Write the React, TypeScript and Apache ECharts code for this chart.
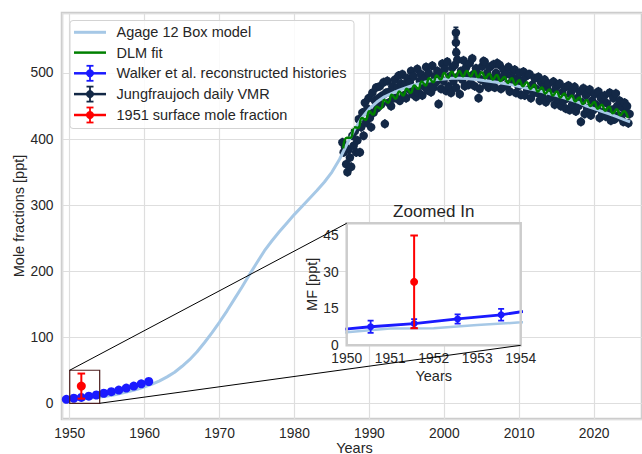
import React, { useEffect, useRef } from "react";
import * as echarts from "echarts";

// ---------------- data ----------------
const agageYears = [
  1949, 1950, 1951, 1952, 1953, 1954, 1955, 1956, 1957, 1958, 1959, 1960, 1961, 1962, 1963, 1964,
  1965, 1966, 1967, 1968, 1969, 1970, 1971, 1972, 1973, 1974, 1975, 1976, 1977, 1978, 1979, 1980,
  1981, 1982, 1983, 1984, 1985, 1986, 1987, 1988, 1989, 1990, 1991, 1992, 1993, 1994, 1995, 1996,
  1997, 1998, 1999, 2000, 2001, 2002, 2003, 2004, 2005, 2006, 2007, 2008, 2009, 2010, 2011, 2012,
  2013, 2014, 2015, 2016, 2017, 2018, 2019, 2020, 2021, 2022, 2023, 2024, 2024.8,
];
const agageValues = [
  4.5, 5.3, 6.9, 7.0, 8.3, 9.4, 11, 13, 15.5, 18, 21, 25, 29, 34, 40, 47,
  56, 66, 78, 92, 107, 123, 140, 158, 176, 195, 213, 231, 246, 260, 273, 286,
  298, 310, 322, 335, 350, 369, 392, 414, 432, 446, 456, 464, 469, 474, 478, 482,
  485, 488, 490, 491, 492, 492, 491.5, 490.5, 489, 487.5, 486, 484, 482, 479.5, 477, 474.5,
  472, 469, 466, 462.5, 459, 455, 450, 446, 442, 438, 434, 429.5, 426,
];

// DLM fit, half-yearly from 1986.5
const dlmStart = 1986.5;
const dlmStep = 0.5;
const dlmValues = [
  386, 402, 402, 418, 417, 432, 429, 442, 437, 449, 446, 459, 455, 467, 461, 472,
  466, 476, 470, 481, 476, 487, 481, 492, 486, 496, 490, 500, 493, 502, 494, 503,
  495, 503, 495, 503, 494, 501, 492, 499, 490, 497, 488, 494, 485, 492, 482, 489,
  480, 486, 476, 482, 472, 478, 469, 475, 466, 472, 463, 469, 460, 466, 457, 463,
  453, 459, 450, 456, 446, 452, 443, 449, 439, 445, 436, 442, 432,
];

// Walker et al. reconstructed histories
const walkerYears = [1949.55, 1950.55, 1951.55, 1952.55, 1953.55, 1954.55, 1955.55, 1956.55, 1957.55, 1958.55, 1959.55, 1960.55];
const walkerValues = [6, 7.6, 8.9, 10.8, 12.5, 15.2, 17.5, 20, 23, 26, 29.5, 33];
const walkerErrors = [2.2, 2.5, 1.8, 1.9, 2.4, 2.4, 2.5, 2.6, 2.8, 3, 3.2, 3.4];

// 1951 surface mole fraction
const surfaceYears = [1951.55];
const surfaceValues = [26];
const surfaceErrors = [19];

// Jungfraujoch daily VMR (sampled), 6 per year from 1986.4
const jfjStart = 1986.4;
const jfjPerYear = 6;
const jfjTypicalError = 7;
const jfjValues = [
  395, 380, 388, 362, 350, 384,
  372, 358, 405, 390, 412, 380,
  398, 430, 380, 418, 440, 405,
  455, 425, 446, 462, 432, 418,
  470, 440, 458, 478, 447, 462,
  480, 452, 466, 486, 423, 470,
  488, 455, 472, 450, 480, 462,
  490, 462, 478, 496, 458, 484,
  498, 466, 482, 462, 492, 476,
  486, 503, 468, 495, 474, 464,
  506, 470, 488, 498, 466, 480,
  492, 509, 474, 500, 484, 471,
  511, 478, 495, 486, 503, 453,
  498, 476, 514, 488, 506, 473,
  517, 480, 495, 470, 508, 488,
  512, 478, 520, 495, 468, 503,
  490, 519, 480, 508, 496, 482,
  515, 484, 522, 498, 480, 507,
  500, 462, 476, 490, 510, 518,
  517, 482, 500, 478, 509, 492,
  486, 513, 478, 500, 515, 490,
  512, 476, 494, 505, 480, 498,
  482, 509, 472, 497, 488, 503,
  505, 470, 492, 480, 500, 467,
  488, 502, 466, 495, 474, 498,
  498, 462, 482, 470, 492, 476,
  470, 494, 458, 486, 465, 478,
  490, 456, 476, 484, 462, 470,
  466, 487, 452, 478, 460, 482,
  484, 450, 470, 458, 478, 446,
  462, 481, 444, 470, 452, 476,
  479, 442, 462, 450, 472, 426,
  455, 477, 438, 466, 446, 470,
  475, 436, 458, 444, 468, 452,
  448, 472, 432, 462, 440, 456,
  466, 434, 454, 442, 470, 428,
  444, 462, 430, 469, 450, 436,
  458, 432, 448, 426, 455, 440,
  450, 424, 438,
];
const jfjSpikeYears = [2001.55, 2001.55, 2001.6];
const jfjSpikeValues = [561, 546, 531];
const jfjSpikeErrors = [8, 10, 12];

// inset window
const insetX = [1950, 1954];
const insetY = [0, 50];
const insetYTicks = 15;

// ---------------- styles ----------------
const FONT = '"Liberation Sans", Arial, Helvetica, sans-serif';
const TXT = "#262626";
const LIGHT = "#a6c8e6";
const GREEN = "#008000";
const BLUE = "#1a1aff";
const NAVY = "#132846";
const RED = "#ff0000";
const BOXC = "#4d1f1f";

function errSeries(
  xs: number[], ys: number[], es: number[], color: string, cap: number, lw: number,
  grid: number, z: number, filter?: (x: number) => boolean
) {
  const data: number[][] = [];
  xs.forEach((x, i) => {
    if (!filter || filter(x)) data.push([x, ys[i], es[i]]);
  });
  return {
    type: "custom",
    coordinateSystem: "cartesian2d",
    xAxisIndex: grid,
    yAxisIndex: grid,
    z,
    clip: true,
    silent: true,
    encode: { x: 0, y: 1 },
    data,
    renderItem: (_p: any, api: any) => {
      const x = api.value(0);
      const y = api.value(1);
      const e = api.value(2);
      const a = api.coord([x, y + e]);
      const b = api.coord([x, y - e]);
      const st = { stroke: color, lineWidth: lw };
      const children: any[] = [
        { type: "line", shape: { x1: a[0], y1: a[1], x2: b[0], y2: b[1] }, style: st },
      ];
      if (cap > 0) {
        children.push({ type: "line", shape: { x1: a[0] - cap, y1: a[1], x2: a[0] + cap, y2: a[1] }, style: st });
        children.push({ type: "line", shape: { x1: b[0] - cap, y1: b[1], x2: b[0] + cap, y2: b[1] }, style: st });
      }
      return { type: "group", children };
    },
  };
}

function txt(text: string, x: number, y: number, size: number, extra: any = {}) {
  return {
    type: "text",
    x,
    y,
    z: 30,
    silent: true,
    ...extra,
    style: {
      text,
      fontSize: size,
      fontFamily: FONT,
      fill: TXT,
      align: extra.align || "center",
      verticalAlign: "middle",
      textAlign: extra.align || "center",
      textVerticalAlign: "middle",
    },
  };
}

export default function App() {
  const ref = useRef<HTMLDivElement>(null);

  useEffect(() => {
    if (!ref.current) return;
    const chart = echarts.init(ref.current, null, { renderer: "svg" });

    const agageData = agageYears.map((x, i) => [x, agageValues[i]]);
    const dlmData = dlmValues.map((v, i) => [dlmStart + i * dlmStep, v]);
    const walkerData = walkerYears.map((x, i) => [x, walkerValues[i]]);
    const surfaceData = surfaceYears.map((x, i) => [x, surfaceValues[i]]);
    const jfjYears = jfjValues.map((_v, i) => jfjStart + i / jfjPerYear);
    const jfjData = jfjValues.map((v, i) => [jfjYears[i], v]);
    const jfjErrs = jfjValues.map(() => jfjTypicalError);
    const spikeData = jfjSpikeYears.map((x, i) => [x, jfjSpikeValues[i]]);
    const inInset = (x: number) => x >= insetX[0] && x <= insetX[1];

    const labelBase = { fontSize: 13.8, color: TXT, fontFamily: FONT };

    const option: any = {
      animation: false,
      backgroundColor: "#ffffff",
      grid: [
        { left: 62, top: 13, width: 585, height: 406, show: true, borderColor: "#cccccc", borderWidth: 2.5, backgroundColor: "transparent" },
        { left: 346.7, top: 223.3, width: 174, height: 122, show: false },
      ],
      xAxis: [
        {
          type: "value", gridIndex: 0, min: 1948.97, max: 2026.39, splitNumber: 8,
          axisLine: { show: false }, axisTick: { show: false },
          splitLine: { show: true, lineStyle: { color: "#dedede", width: 1.2 } },
          axisLabel: { ...labelBase, margin: 7, showMinLabel: false, showMaxLabel: false, formatter: (v: number) => String(Math.round(v)) },
        },
        {
          type: "value", gridIndex: 1, min: insetX[0], max: insetX[1], interval: 1,
          axisLine: { show: false }, axisTick: { show: false }, splitLine: { show: false },
          axisLabel: { ...labelBase, margin: 6, formatter: (v: number) => String(Math.round(v)) },
        },
      ],
      yAxis: [
        {
          type: "value", gridIndex: 0, min: -23.8, max: 590.8, splitNumber: 6,
          axisLine: { show: false }, axisTick: { show: false },
          splitLine: { show: true, lineStyle: { color: "#dedede", width: 1.2 } },
          axisLabel: { ...labelBase, margin: 8.5, showMinLabel: false, showMaxLabel: false, formatter: (v: number) => String(Math.round(v)) },
        },
        {
          type: "value", gridIndex: 1, min: insetY[0], max: insetY[1], interval: insetYTicks,
          axisLine: { show: false }, axisTick: { show: false }, splitLine: { show: false },
          axisLabel: { ...labelBase, margin: 8, showMaxLabel: false },
        },
      ],
      series: [
        errSeries(jfjYears, jfjValues, jfjErrs, NAVY, 0, 1.6, 0, 2),
        { type: "scatter", xAxisIndex: 0, yAxisIndex: 0, data: jfjData, symbolSize: 8.5, itemStyle: { color: NAVY, opacity: 1 }, z: 2, silent: true },
        errSeries(jfjSpikeYears, jfjSpikeValues, jfjSpikeErrors, NAVY, 2.5, 1.8, 0, 2),
        { type: "scatter", xAxisIndex: 0, yAxisIndex: 0, data: spikeData, symbolSize: 8.5, itemStyle: { color: NAVY, opacity: 1 }, z: 2, silent: true },
        { type: "line", xAxisIndex: 0, yAxisIndex: 0, data: agageData, showSymbol: false, lineStyle: { color: LIGHT, width: 3 }, z: 3, silent: true },
        { type: "line", xAxisIndex: 0, yAxisIndex: 0, data: dlmData, showSymbol: false, smooth: 0.5, lineStyle: { color: GREEN, width: 2.5 }, z: 4, silent: true },
        { type: "line", xAxisIndex: 0, yAxisIndex: 0, data: walkerData, symbol: "circle", symbolSize: 9, showSymbol: true, itemStyle: { color: BLUE, opacity: 1 }, lineStyle: { color: BLUE, width: 2.5 }, z: 5, silent: true },
        errSeries(walkerYears, walkerValues, walkerErrors, BLUE, 3, 1.8, 0, 5),
        errSeries(surfaceYears, surfaceValues, surfaceErrors, RED, 3.8, 2, 0, 6),
        { type: "scatter", xAxisIndex: 0, yAxisIndex: 0, data: surfaceData, symbolSize: 9, itemStyle: { color: RED, opacity: 1 }, z: 6, silent: true },
        // inset
        { type: "line", xAxisIndex: 1, yAxisIndex: 1, data: agageData, showSymbol: false, lineStyle: { color: LIGHT, width: 2.5 }, z: 3, clip: true, silent: true },
        { type: "line", xAxisIndex: 1, yAxisIndex: 1, data: walkerData, symbol: "circle", symbolSize: 7, showSymbol: true, itemStyle: { color: BLUE, opacity: 1 }, lineStyle: { color: BLUE, width: 2.8 }, z: 5, clip: true, silent: true },
        errSeries(walkerYears, walkerValues, walkerErrors, BLUE, 3, 1.8, 1, 5, inInset),
        errSeries(surfaceYears, surfaceValues, surfaceErrors, RED, 3.8, 2, 1, 6, inInset),
        { type: "scatter", xAxisIndex: 1, yAxisIndex: 1, data: surfaceData, symbolSize: 8, itemStyle: { color: RED, opacity: 1 }, z: 6, silent: true },
      ],
    };
    chart.setOption(option);

    const p0 = (v: number[]) => chart.convertToPixel({ gridIndex: 0 } as any, v) as number[];
    const p1 = (v: number[]) => chart.convertToPixel({ gridIndex: 1 } as any, v) as number[];
    const itl = p1([insetX[0], insetY[1]]);
    const ibr = p1([insetX[1], insetY[0]]);
    const mtl = p0([insetX[0], insetY[1]]);
    const mbr = p0([insetX[1], insetY[0]]);
    const iw = ibr[0] - itl[0];
    const ih = ibr[1] - itl[1];
    const icx = (itl[0] + ibr[0]) / 2;
    const icy = (itl[1] + ibr[1]) / 2;

    const legendY = [32.3, 52.6, 73.3, 94.1, 115];
    const legendLabels = [
      "Agage 12 Box model",
      "DLM fit",
      "Walker et al. reconstructed histories",
      "Jungfraujoch daily VMR",
      "1951 surface mole fraction",
    ];
    const legendColors = [LIGHT, GREEN, BLUE, NAVY, RED];
    const legendEls: any[] = [
      {
        type: "rect", z: 25, silent: true,
        shape: { x: 70, y: 20.5, width: 284, height: 108, r: 3 },
        style: { fill: "rgba(255,255,255,0.85)", stroke: "#d3d3d3", lineWidth: 1 },
      },
    ];
    legendY.forEach((y, i) => {
      const c = legendColors[i];
      legendEls.push({
        type: "line", z: 26, silent: true,
        shape: { x1: 74, y1: y, x2: 106, y2: y },
        style: { stroke: c, lineWidth: i === 0 ? 3 : 2.5 },
      });
      if (i >= 2) {
        legendEls.push({ type: "line", z: 26, silent: true, shape: { x1: 90, y1: y - 7.5, x2: 90, y2: y + 7.5 }, style: { stroke: c, lineWidth: 1.8 } });
        legendEls.push({ type: "line", z: 26, silent: true, shape: { x1: 86.5, y1: y - 7.5, x2: 93.5, y2: y - 7.5 }, style: { stroke: c, lineWidth: 1.8 } });
        legendEls.push({ type: "line", z: 26, silent: true, shape: { x1: 86.5, y1: y + 7.5, x2: 93.5, y2: y + 7.5 }, style: { stroke: c, lineWidth: 1.8 } });
        legendEls.push({ type: "circle", z: 27, silent: true, shape: { cx: 90, cy: y, r: 4 }, style: { fill: c } });
      }
      legendEls.push(txt(legendLabels[i], 116.5, y, 14.5, { align: "left", z: 27 }));
    });

    chart.setOption({
      graphic: {
        elements: [
          { type: "rect", z: 1, silent: true, shape: { x: itl[0], y: itl[1], width: iw, height: ih }, style: { fill: "#ffffff" } },
          { type: "rect", z: 8, silent: true, shape: { x: itl[0], y: itl[1], width: iw, height: ih }, style: { fill: "none", stroke: "#cccccc", lineWidth: 2.5 } },
          { type: "rect", z: 7, silent: true, shape: { x: mtl[0], y: mtl[1], width: mbr[0] - mtl[0], height: mbr[1] - mtl[1] }, style: { fill: "none", stroke: BOXC, lineWidth: 1.2 } },
          { type: "line", z: 9, silent: true, shape: { x1: mtl[0], y1: mtl[1], x2: itl[0], y2: itl[1] }, style: { stroke: "#000000", lineWidth: 1 } },
          { type: "line", z: 9, silent: true, shape: { x1: mbr[0], y1: mbr[1], x2: ibr[0], y2: ibr[1] }, style: { stroke: "#000000", lineWidth: 1 } },
          txt("Zoomed In", icx, itl[1] - 11.6, 17),
          txt("MF [ppt]", itl[0] - 35, icy, 14.5, { rotation: Math.PI / 2 }),
          txt("Years", icx, ibr[1] + 30.5, 14.5),
          txt("Years", 354.5, 447.5, 14.5),
          txt("Mole fractions [ppt]", 19, 216, 14.5, { rotation: Math.PI / 2 }),
          ...legendEls,
        ],
      },
    });

    return () => chart.dispose();
  }, []);

  return <div ref={ref} style={{ position: "absolute", left: 0, top: 0, width: 642, height: 454 }} />;
}
